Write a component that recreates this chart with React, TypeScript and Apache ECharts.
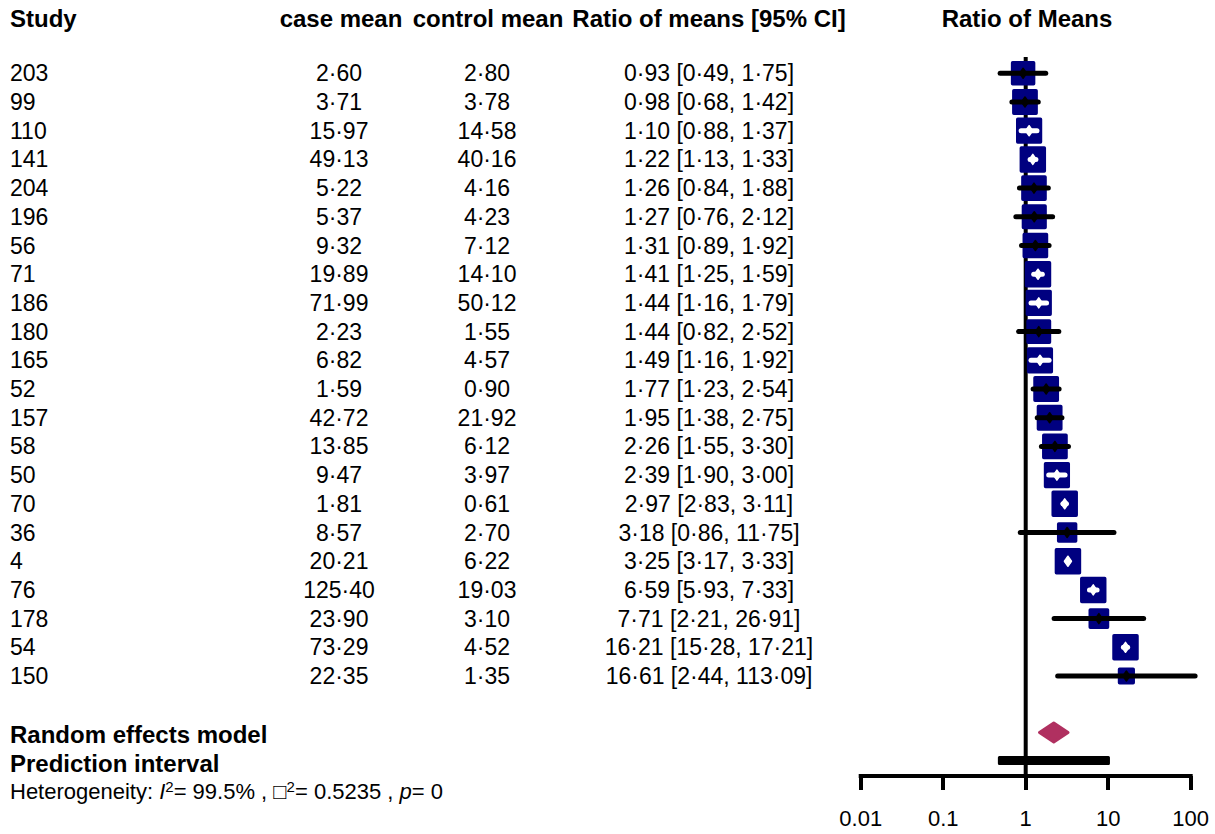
import React, { useEffect, useRef } from "react";
import * as echarts from "echarts";

const studies = ["203", "99", "110", "141", "204", "196", "56", "71", "186", "180", "165", "52", "157", "58", "50", "70", "36", "4", "76", "178", "54", "150"];
const caseMean = [2.6, 3.71, 15.97, 49.13, 5.22, 5.37, 9.32, 19.89, 71.99, 2.23, 6.82, 1.59, 42.72, 13.85, 9.47, 1.81, 8.57, 20.21, 125.4, 23.9, 73.29, 22.35];
const controlMean = [2.8, 3.78, 14.58, 40.16, 4.16, 4.23, 7.12, 14.1, 50.12, 1.55, 4.57, 0.9, 21.92, 6.12, 3.97, 0.61, 2.7, 6.22, 19.03, 3.1, 4.52, 1.35];
const ratio = [0.93, 0.98, 1.1, 1.22, 1.26, 1.27, 1.31, 1.41, 1.44, 1.44, 1.49, 1.77, 1.95, 2.26, 2.39, 2.97, 3.18, 3.25, 6.59, 7.71, 16.21, 16.61];
const lower = [0.49, 0.68, 0.88, 1.13, 0.84, 0.76, 0.89, 1.25, 1.16, 0.82, 1.16, 1.23, 1.38, 1.55, 1.9, 2.83, 0.86, 3.17, 5.93, 2.21, 15.28, 2.44];
const upper = [1.75, 1.42, 1.37, 1.33, 1.88, 2.12, 1.92, 1.59, 1.79, 2.52, 1.92, 2.54, 2.75, 3.3, 3.0, 3.11, 11.75, 3.33, 7.33, 26.91, 17.21, 113.09];
const tau2 = 0.5235;
const i2Text = "99.5%";
const pText = "0";
const randomEffect = [2.19, 1.47, 3.26];
const predictionInterval = [0.46, 10.5];
const xTicks = [0.01, 0.1, 1, 10, 100];
const headers = ["Study", "case mean", "control mean", "Ratio of means [95% CI]", "Ratio of Means"];

const FONT = "'Liberation Sans', Arial, Helvetica, sans-serif";
const FS = 23;
const FSB = 24;
const fmt = (v: number) => v.toFixed(2).replace(".", "\u00b7");

export default function App() {
  const ref = useRef<HTMLDivElement>(null);
  useEffect(() => {
    document.body.style.margin = "0";
    const chart = echarts.init(ref.current!, undefined, { renderer: "svg" });
    const n = studies.length;
    const se = lower.map((l, i) => (Math.log(upper[i]) - Math.log(l)) / (2 * 1.959964));
    const w = se.map((s) => 1 / (s * s + tau2));
    const wMax = Math.max(...w);
    const studyData = ratio.map((r, i) => [i, r, lower[i], upper[i], 23 * Math.sqrt(w[i] / wMax)]);
    const reRow = n + 1;
    const piRow = n + 2;
    const hetRow = n + 3;
    const yMin = -0.568;
    const yMax = 24.484;

    const tableData = studies.map((s, i) => [i, 1]);
    const colX = { study: 10, caseM: 339, ctrl: 487, ci: 709 };

    chart.setOption({
      animation: false,
      grid: { left: 860.7, right: 24.3, top: 57, bottom: 834 - 776, containLabel: false },
      xAxis: {
        type: "log",
        logBase: 10,
        min: xTicks[0],
        max: xTicks[xTicks.length - 1],
        axisLine: { show: true, onZero: false, lineStyle: { color: "#000", width: 4, cap: "square" } },
        axisTick: { show: true, length: 14, lineStyle: { color: "#000", width: 4 } },
        axisLabel: {
          show: true,
          margin: 31,
          fontSize: 22,
          fontFamily: FONT,
          color: "#000",
          formatter: (v: number) => String(v),
        },
        splitLine: { show: false },
      },
      yAxis: {
        type: "value",
        inverse: true,
        min: yMin,
        max: yMax,
        show: false,
        splitLine: { show: false },
      },
      graphic: headers.map((h, k) => ({
        type: "text",
        x: [10, 341, 488, 709, 1027][k],
        y: 18,
        style: {
          text: h,
          font: `bold ${FSB}px ${FONT}`,
          fill: "#000",
          align: k === 0 ? "left" : "center",
          verticalAlign: "middle",
        },
      })),
      series: [
        {
          type: "line",
          data: [[1, yMin], [1, yMax]],
          symbol: "none",
          lineStyle: { color: "#000", width: 4 },
          z: 1,
          silent: true,
        },
        {
          type: "custom",
          clip: false,
          z: 3,
          data: studyData,
          encode: { x: [1, 2, 3], y: 0 },
          renderItem: (params: any, api: any) => {
            const row = api.value(0);
            const est = api.value(1);
            const lo = api.value(2);
            const hi = api.value(3);
            const sz = api.value(4);
            const c = api.coord([est, row]);
            const pl = api.coord([lo, row]);
            const ph = api.coord([hi, row]);
            const half = sz / 2;
            const inside = pl[0] >= c[0] - half && ph[0] <= c[0] + half;
            const col = inside ? "#ffffff" : "#000000";
            return {
              type: "group",
              children: [
                {
                  type: "rect",
                  shape: { x: c[0] - half, y: c[1] - half, width: sz, height: sz },
                  style: { fill: "#000080", stroke: "#000080", lineWidth: 3.5, lineJoin: "round" },
                },
                {
                  type: "line",
                  shape: { x1: pl[0], y1: c[1], x2: ph[0], y2: c[1] },
                  style: { stroke: col, lineWidth: 5, lineCap: "round" },
                },
                {
                  type: "polygon",
                  shape: { points: [[c[0] - 3.5, c[1]], [c[0], c[1] - 5], [c[0] + 3.5, c[1]], [c[0], c[1] + 5]] },
                  style: { fill: col, stroke: col, lineWidth: 1.5, lineJoin: "round" },
                },
              ],
            };
          },
        },
        {
          type: "custom",
          clip: false,
          z: 3,
          data: [[reRow, randomEffect[0], randomEffect[1], randomEffect[2]]],
          encode: { x: [1, 2, 3], y: 0 },
          renderItem: (params: any, api: any) => {
            const row = api.value(0);
            const c = api.coord([api.value(1), row]);
            const pl = api.coord([api.value(2), row]);
            const ph = api.coord([api.value(3), row]);
            const h = 9.5;
            return {
              type: "polygon",
              shape: { points: [[pl[0], c[1] - 1], [c[0], c[1] - 1 - h], [ph[0], c[1] - 1], [c[0], c[1] - 1 + h]] },
              style: { fill: "#B03060", stroke: "#B03060", lineWidth: 3, lineJoin: "round" },
            };
          },
        },
        {
          type: "custom",
          clip: false,
          z: 3,
          data: [[piRow, predictionInterval[0], predictionInterval[1]]],
          encode: { x: [1, 2], y: 0 },
          renderItem: (params: any, api: any) => {
            const row = api.value(0);
            const pl = api.coord([api.value(1), row]);
            const ph = api.coord([api.value(2), row]);
            return {
              type: "rect",
              shape: { x: pl[0] + 1.5, y: pl[1] - 4.5, width: ph[0] - pl[0] - 3, height: 6, r: 0 },
              style: { fill: "#000", stroke: "#000", lineWidth: 3, lineJoin: "round" },
            };
          },
        },
        {
          type: "custom",
          clip: false,
          z: 4,
          silent: true,
          data: tableData,
          encode: { x: 1, y: 0 },
          renderItem: (params: any, api: any) => {
            const i = params.dataIndex;
            const y = api.coord([1, api.value(0)])[1];
            const mk = (x: number, text: string, align: string) => ({
              type: "text",
              x,
              y,
              style: { text, font: `${FS}px ${FONT}`, fill: "#000", align, verticalAlign: "middle" },
            });
            return {
              type: "group",
              children: [
                mk(colX.study, studies[i], "left"),
                mk(colX.caseM, fmt(caseMean[i]), "center"),
                mk(colX.ctrl, fmt(controlMean[i]), "center"),
                mk(colX.ci, `${fmt(ratio[i])} [${fmt(lower[i])}, ${fmt(upper[i])}]`, "center"),
              ],
            };
          },
        },
        {
          type: "custom",
          clip: false,
          z: 4,
          silent: true,
          data: [[reRow, 1], [piRow, 1], [hetRow, 1]],
          encode: { x: 1, y: 0 },
          renderItem: (params: any, api: any) => {
            const y = api.coord([1, api.value(0)])[1];
            const k = params.dataIndex;
            if (k < 2) {
              return {
                type: "text",
                x: 10,
                y: y + 1,
                style: {
                  text: k === 0 ? "Random effects model" : "Prediction interval",
                  font: `bold ${FSB}px ${FONT}`,
                  fill: "#000",
                  align: "left",
                  verticalAlign: "middle",
                },
              };
            }
            return {
              type: "text",
              x: 10,
              y,
              style: {
                text: `{n|Heterogeneity: }{i|I}{s|2}{n|= ${i2Text} , \u25a1}{s|2}{n|= ${tau2.toFixed(4)} , }{i|p}{n|= ${pText}}`,
                align: "left",
                verticalAlign: "middle",
                rich: {
                  n: { fontSize: 22, fontFamily: FONT, fill: "#000", lineHeight: 24, verticalAlign: "bottom" },
                  i: { fontSize: 22, fontFamily: FONT, fontStyle: "italic", fill: "#000", lineHeight: 24, verticalAlign: "bottom" },
                  s: { fontSize: 15, fontFamily: FONT, fill: "#000", lineHeight: 24, verticalAlign: "top" },
                },
              },
            };
          },
        },
      ],
    });
    return () => chart.dispose();
  }, []);
  return <div ref={ref} style={{ position: "absolute", left: 0, top: 0, width: 1215, height: 834 }} />;
}
